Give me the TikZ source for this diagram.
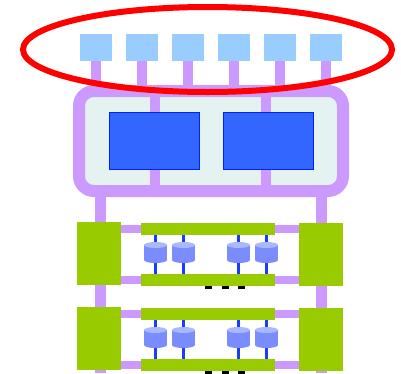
\documentclass[tikz,border=0pt]{standalone}
\usetikzlibrary{shapes.geometric}
\definecolor{purp}{HTML}{CC99FF}
\definecolor{lblue}{HTML}{99CCFF}
\definecolor{grn}{HTML}{99CC00}
\definecolor{rblue}{HTML}{3366FF}
\definecolor{rborder}{HTML}{0022FF}
\definecolor{framefill}{HTML}{E4F2F2}
\definecolor{cylbody}{HTML}{7B8CFF}
\definecolor{cyltop}{HTML}{AAB9FF}
\definecolor{wire}{HTML}{1A3CFF}
\begin{document}
\begin{tikzpicture}[x=1pt,y=-1pt,
  box/.style={inner sep=0,outer sep=0,anchor=north west},
  sq/.style={box,fill=lblue,minimum width=32,minimum height=27},
  pline/.style={purp,line width=10},
  plink/.style={purp,line width=8},
  gblock/.style={box,fill=grn,minimum width=44,minimum height=63},
  gbar/.style={box,fill=grn,minimum width=134,minimum height=12},
  bigrect/.style={box,fill=rblue,draw=rborder,line width=0.8,minimum width=90,minimum height=57},
  dotbox/.style={box,fill=black,minimum width=7,minimum height=5},
  wireline/.style={wire,line width=2.7},
  cyl/.pic={
    \fill[cylbody] (-11.5,245) rectangle (11.5,260);
    \fill[cylbody] (0,260) ellipse [x radius=11.5,y radius=3];
    \fill[cyltop] (0,245) ellipse [x radius=11.5,y radius=3];
  }]
\useasboundingbox (0,0) rectangle (401,373);

% lower vertical purple lines
\coordinate (lv0) at (100,191);
\coordinate (lv1) at (100,373);
\coordinate (rv0) at (321,191);
\coordinate (rv1) at (321,373);
\draw[purp,line width=11] (lv0) -- (lv1);
\draw[purp,line width=11] (rv0) -- (rv1);

% stems from squares
\foreach \i in {0,...,5}{
  \coordinate (st\i) at (96+46*\i,55);
  \coordinate (sb\i) at (96+46*\i,92);
  \draw[pline] (st\i) -- (sb\i);
}

% frame
\node[box,draw=purp,line width=12,fill=framefill,rounded corners=15,
      minimum width=264,minimum height=100] (frame) at (79,91) {};
\coordinate (fa0) at (155,91); \coordinate (fa1) at (155,191);
\coordinate (fb0) at (266,91); \coordinate (fb1) at (266,191);
\draw[pline] (fa0) -- (fa1);
\draw[pline] (fb0) -- (fb1);
\node[bigrect] (cpu1) at (109,112) {};
\node[bigrect] (cpu2) at (223,112) {};

% squares
\foreach \i in {0,...,5}{
  \node[sq] (s\i) at (80+46*\i,34) {};
}

% tiers
\foreach \t/\dy in {a/0,b/85}{
\begin{scope}[yshift=-\dy pt]
  \node[dotbox] (\t d1) at (205,284) {};
  \node[dotbox] (\t d2) at (222,284) {};
  \node[dotbox] (\t d3) at (238,284) {};
  \node[gblock] (\t L) at (77,222) {};
  \node[gblock] (\t R) at (299,223) {};
  \node[gbar] (\t T) at (141,223) {};
  \node[gbar] (\t B) at (141,274) {};
  \draw[plink] (\t L.east |- 0,229) -- (\t T.west |- 0,229);
  \draw[plink] (\t L.east |- 0,279.5) -- (\t B.west |- 0,279.5);
  \draw[plink] (\t T.east |- 0,229) -- (\t R.west |- 0,229);
  \draw[plink] (\t B.east |- 0,279.5) -- (\t R.west |- 0,279.5);
  \foreach \x in {155.5,183.5,238.5,266.5}{
    \draw[wireline] (\x,235) -- (\x,274);
    \pic at (\x,0) {cyl};
  }
\end{scope}
}

% red ellipse
\node[ellipse,draw=red,line width=6,inner sep=0,outer sep=0,
      minimum width=369,minimum height=85] (group) at (207.5,49.5) {};
\end{tikzpicture}
\end{document}
